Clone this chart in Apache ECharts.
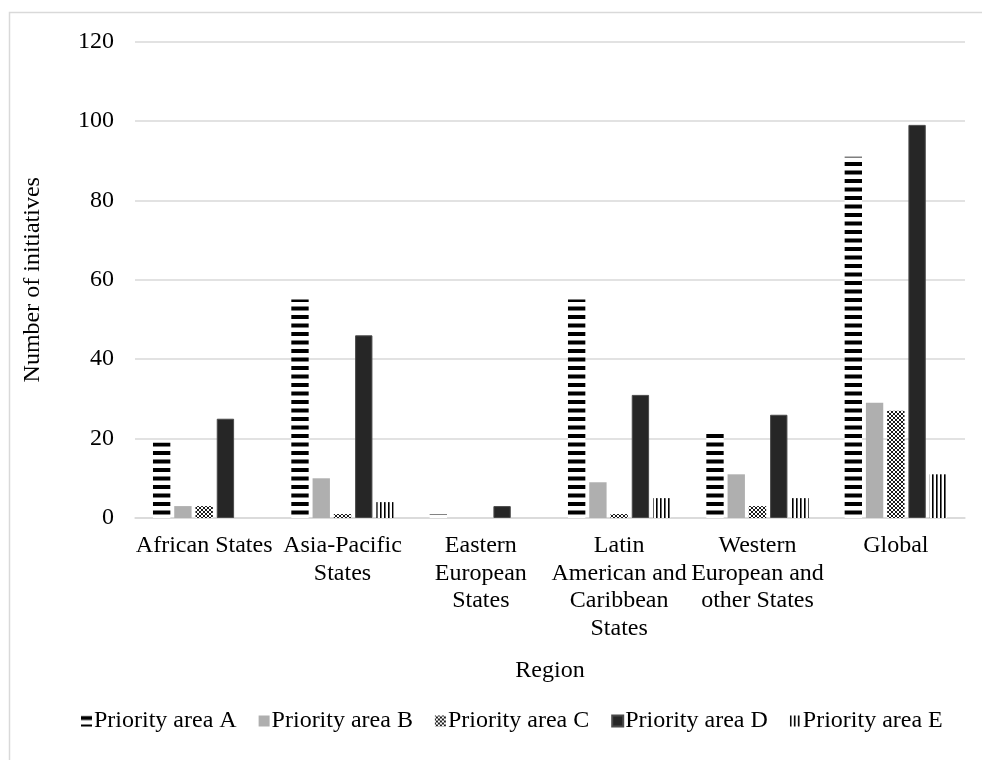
<!DOCTYPE html>
<html>
<head>
<meta charset="utf-8">
<script src="https://cdn.jsdelivr.net/npm/echarts@6/dist/echarts.min.js"></script>
<style>
  html, body { margin: 0; padding: 0; background: #ffffff; }
  #chart { width: 982px; height: 760px; }
</style>
</head>
<body>
<div id="chart"></div>
<script>
// Regions (x axis categories, with the line breaks used for the tick labels)
const regions = [
  'African States',
  'Asia-Pacific\nStates',
  'Eastern\nEuropean\nStates',
  'Latin\nAmerican and\nCaribbean\nStates',
  'Western\nEuropean and\nother States',
  'Global'
];

// Number of initiatives per region, one array per priority area
const areaA = [19, 55, 1, 55, 22, 91];
const areaB = [3, 10, 0, 9, 11, 29];
const areaC = [3, 1, 0, 1, 3, 27];
const areaD = [25, 46, 3, 31, 26, 99];
const areaE = [0, 4, 0, 5, 5, 11];

const seriesNames = ['Priority area A', 'Priority area B', 'Priority area C', 'Priority area D', 'Priority area E'];

// Value axis ticks
const yMin = 0, yMax = 120, yStep = 20;

const FONT = '"Liberation Serif", "Times New Roman", serif';
const FS = 24;

// Fill patterns for the hatched series
function makeTile(w, h, draw) {
  const c = document.createElement('canvas');
  c.width = w; c.height = h;
  const ctx = c.getContext('2d');
  ctx.fillStyle = '#ffffff';
  ctx.fillRect(0, 0, w, h);
  draw(ctx);
  return c;
}
// horizontal dashes
const hStripes = makeTile(8, 17, ctx => {
  ctx.fillStyle = '#000000';
  ctx.fillRect(0, 0.5, 8, 4);
  ctx.fillRect(0, 9, 8, 4);
});
// small crossed lattice
const lattice = makeTile(4, 4, ctx => {
  ctx.strokeStyle = '#000000';
  ctx.lineWidth = 0.9;
  ctx.beginPath();
  ctx.moveTo(0, 0); ctx.lineTo(4, 4);
  ctx.moveTo(4, 0); ctx.lineTo(0, 4);
  ctx.stroke();
});
// vertical lines
const vStripes = makeTile(4, 8, ctx => {
  ctx.fillStyle = '#000000';
  ctx.fillRect(0, 0, 1.6, 8);
});

const fills = [
  { image: hStripes, repeat: 'repeat' },
  '#afafaf',
  { image: lattice, repeat: 'repeat' },
  '#262626',
  { image: vStripes, repeat: 'repeat' }
];
const borders = [null, null, null, '#4a4a4a', null];
const values = [areaA, areaB, areaC, areaD, areaE];

const chart = echarts.init(document.getElementById('chart'), null, { renderer: 'canvas' });

chart.setOption({
  backgroundColor: '#ffffff',
  animation: false,
  textStyle: { fontFamily: FONT, color: '#000000' },
  graphic: [{
    type: 'rect',
    shape: { x: 9.5, y: 12.5, width: 990, height: 800 },
    style: { fill: 'none', stroke: '#d9d9d9', lineWidth: 1.5 },
    silent: true,
    z: -10
  }],
  grid: { left: 135, right: 17, top: 41.5, bottom: 242, containLabel: false },
  legend: {
    bottom: 22,
    left: 76,
    icon: 'rect',
    itemWidth: 11,
    itemHeight: 11,
    itemGap: 22,
    textStyle: { fontFamily: FONT, fontSize: FS, color: '#000000', padding: [0, 0, 0, -3] },
    data: seriesNames
  },
  xAxis: {
    type: 'category',
    data: regions,
    name: 'Region',
    nameLocation: 'middle',
    nameGap: 141,
    nameTextStyle: { fontFamily: FONT, fontSize: FS, color: '#000000' },
    axisLine: { lineStyle: { color: '#d9d9d9', width: 1.5 } },
    axisTick: { show: false },
    axisLabel: {
      interval: 0,
      margin: 14,
      fontFamily: FONT,
      fontSize: FS,
      lineHeight: 27.6,
      color: '#000000',
      align: 'center'
    }
  },
  yAxis: {
    type: 'value',
    min: yMin,
    max: yMax,
    interval: yStep,
    name: 'Number of initiatives',
    nameLocation: 'middle',
    nameGap: 90,
    nameTextStyle: { fontFamily: FONT, fontSize: FS, color: '#000000' },
    axisLine: { show: false },
    axisTick: { show: false },
    axisLabel: { margin: 21, fontFamily: FONT, fontSize: FS, color: '#000000' },
    splitLine: { lineStyle: { color: '#d9d9d9', width: 1.5 } }
  },
  series: seriesNames.map((name, i) => ({
    name: name,
    type: 'bar',
    data: values[i],
    barGap: '22.5%',
    barCategoryGap: '26%',
    itemStyle: borders[i]
      ? { color: fills[i], borderColor: borders[i], borderWidth: 1 }
      : { color: fills[i] }
  }))
});
</script>
</body>
</html>
